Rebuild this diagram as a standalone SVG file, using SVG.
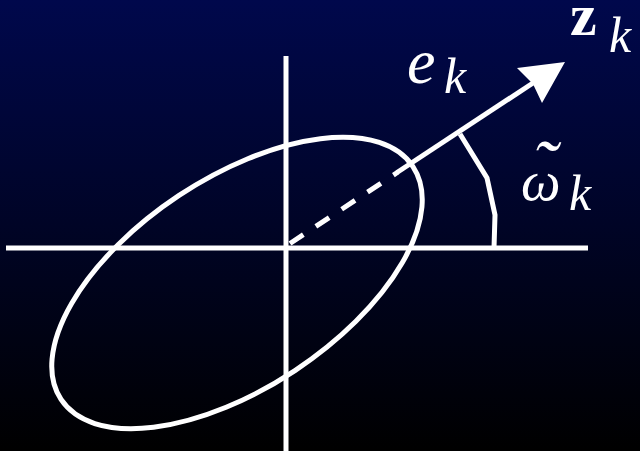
<svg xmlns="http://www.w3.org/2000/svg" width="640" height="451" viewBox="0 0 640 451">
<defs>
<linearGradient id="bg" x1="0" y1="0" x2="0" y2="1">
<stop offset="0" stop-color="#00084c"/>
<stop offset="1" stop-color="#000000"/>
</linearGradient>
</defs>
<style>
.ln{stroke:#fff;fill:none;stroke-width:5}
.mi{font-family:'Liberation Serif','DejaVu Serif',serif;font-style:italic;fill:#fff}
.bf{font-family:'Liberation Serif','DejaVu Serif',serif;font-weight:bold;fill:#fff}
</style>
<rect width="640" height="451" fill="url(#bg)"/>
<g id="axes">
<line class="ln" x1="6" y1="248" x2="588" y2="248"/>
<line class="ln" x1="286" y1="56" x2="286" y2="451"/>
</g>
<g id="ellipse">
<ellipse class="ln" cx="237" cy="283" rx="211" ry="105" transform="rotate(-33.5 237 283)" stroke-width="4.5"/>
</g>
<g id="connectors">
<line class="ln" x1="290" y1="243.5" x2="398" y2="172" stroke-width="9" stroke-dasharray="16 15"/>
<line class="ln" x1="397" y1="172.5" x2="536" y2="81" stroke-width="10"/>
<polygon points="565,62 517,68 533,84 542,103" fill="#fff"/>
<polyline class="ln" points="460,134 487,178 495,215 494,248" stroke-width="4.5"/>
</g>
<g id="label-e">
<text class="mi" x="407" y="83" font-size="64">e</text>
<text class="mi" x="444" y="93" font-size="50">k</text>
</g>
<g id="label-z">
<text class="bf" x="570" y="35" font-size="60">z</text>
<text class="mi" x="609" y="52" font-size="50">k</text>
</g>
<g id="label-omega">
<text class="mi" x="521" y="200" font-size="56">ω<tspan x="532" y="192" font-size="74">˜</tspan></text>
<text class="mi" x="569" y="210" font-size="50">k</text>
</g>
</svg>
